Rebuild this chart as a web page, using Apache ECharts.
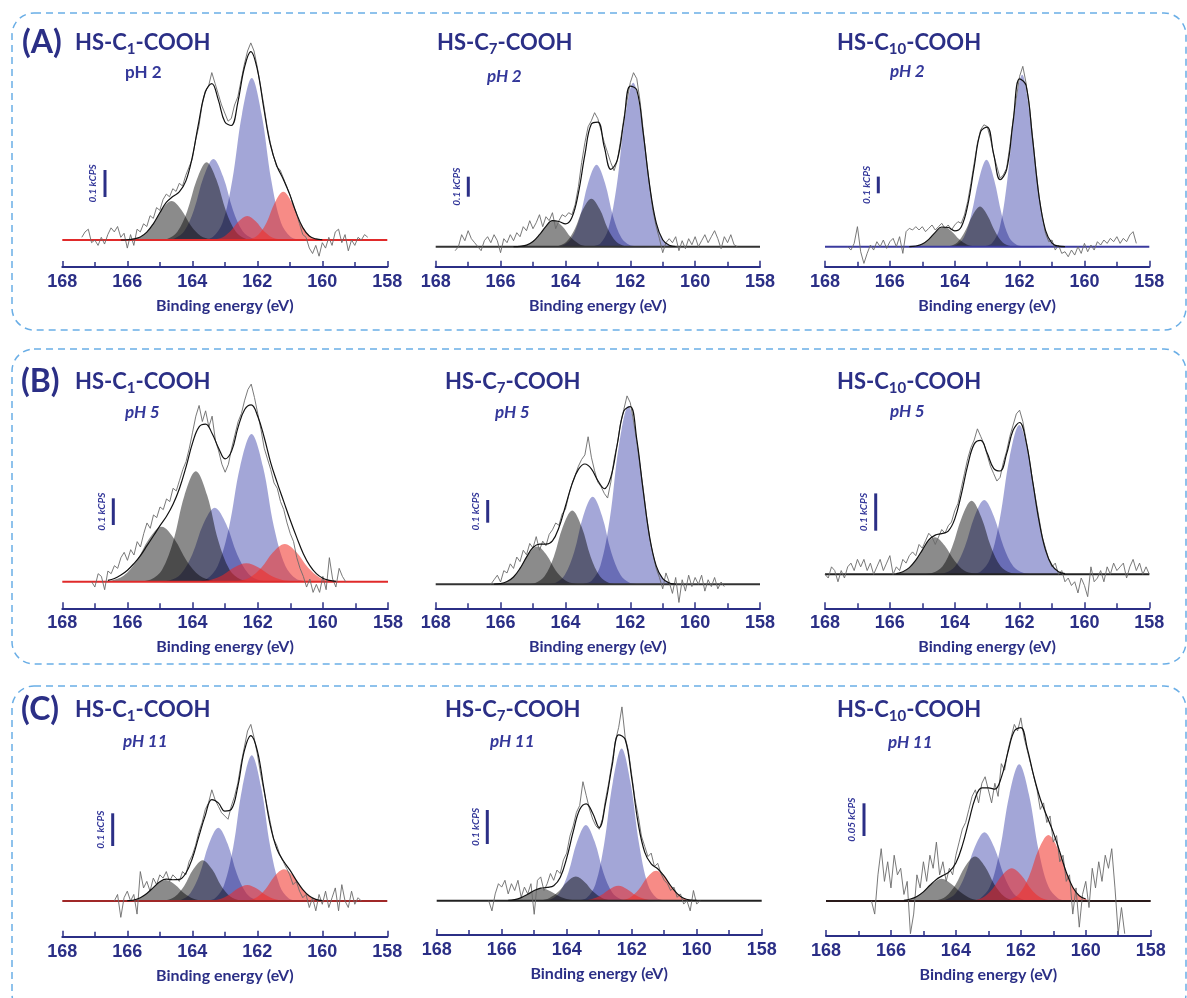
<!DOCTYPE html>
<html><head><meta charset="utf-8">
<script src="https://cdn.jsdelivr.net/npm/echarts@6/dist/echarts.min.js"></script>
<style>html,body{margin:0;padding:0;background:#fff}#c{width:1187px;height:998px}</style>
</head><body><div id="c"></div>
<script>
// ---------------- DATA ----------------
const ROW_LABELS = ['(A)', '(B)', '(C)'];
const CHAIN_SUB = ['1', '7', '10'];
const PH_LABELS = ['pH 2', 'pH 2', 'pH 2', 'pH 5', 'pH 5', 'pH 5', 'pH 11', 'pH 11', 'pH 11'];
const BAR_VALUES = [0.1, 0.1, 0.1, 0.1, 0.1, 0.1, 0.1, 0.1, 0.05];
const BAR_LABELS = ['0.1 kCPS', '0.1 kCPS', '0.1 kCPS', '0.1 kCPS', '0.1 kCPS', '0.1 kCPS', '0.1 kCPS', '0.1 kCPS', '0.05 kCPS'];
const X_TICKS = [168, 166, 164, 162, 160, 158];
const X_TITLE = 'Binding energy (eV)';

// fitted components (binding energy eV, intensity kCPS): S2p1/2, S2p3/2 pairs
const A1_components = [
 [[166.14,0],[165.84,.003],[165.54,.015],[165.24,.053],[164.94,.112],[164.64,.144],[164.34,.112],[164.04,.053],[163.74,.015],[163.44,.003],[163.14,0]],
 [[165.06,0],[164.76,.005],[164.46,.031],[164.16,.106],[163.86,.224],[163.56,.288],[163.26,.224],[162.96,.106],[162.66,.031],[162.36,.005],[162.06,0]],
 [[164.85,0],[164.55,.006],[164.25,.032],[163.95,.111],[163.65,.234],[163.35,.30],[163.05,.234],[162.75,.111],[162.45,.032],[162.15,.006],[161.85,0]],
 [[163.67,0],[163.37,.011],[163.07,.064],[162.77,.221],[162.47,.467],[162.17,.60],[161.87,.467],[161.57,.221],[161.27,.064],[160.97,.011],[160.67,0]],
 [[163.59,0],[163.33,.002],[163.08,.009],[162.82,.033],[162.57,.069],[162.31,.089],[162.05,.069],[161.8,.033],[161.54,.009],[161.29,.002],[161.03,0]],
 [[162.48,0],[162.22,.003],[161.97,.019],[161.71,.066],[161.46,.139],[161.2,.179],[160.94,.139],[160.69,.066],[160.43,.019],[160.18,.003],[159.92,0]]
];
const A2_components = [
 [[165.63,0],[165.37,.002],[165.12,.014],[164.86,.048],[164.61,.101],[164.35,.13],[164.09,.101],[163.84,.048],[163.58,.014],[163.33,.002],[163.07,0]],
 [[164.48,0],[164.22,.004],[163.97,.025],[163.71,.089],[163.46,.187],[163.2,.24],[162.94,.187],[162.69,.089],[162.43,.025],[162.18,.004],[161.92,0]],
 [[164.32,0],[164.06,.008],[163.81,.043],[163.55,.151],[163.3,.319],[163.04,.41],[162.78,.319],[162.53,.151],[162.27,.043],[162.02,.008],[161.76,0]],
 [[163.19,0],[162.93,.015],[162.68,.087],[162.42,.303],[162.17,.639],[161.91,.82],[161.65,.639],[161.4,.303],[161.14,.087],[160.89,.015],[160.63,0]]
];
const A3_components = [
 [[165.5,0],[165.27,.002],[165.03,.013],[164.8,.044],[164.56,.093],[164.33,.12],[164.1,.093],[163.86,.044],[163.63,.013],[163.39,.002],[163.16,0]],
 [[164.39,0],[164.16,.004],[163.92,.025],[163.69,.089],[163.45,.187],[163.22,.24],[162.99,.187],[162.75,.089],[162.52,.025],[162.28,.004],[162.05,0]],
 [[164.19,0],[163.96,.01],[163.72,.055],[163.49,.192],[163.25,.405],[163.02,.52],[162.79,.405],[162.55,.192],[162.32,.055],[162.08,.01],[161.85,0]],
 [[163.09,0],[162.86,.019],[162.62,.109],[162.39,.38],[162.15,.802],[161.92,1.03],[161.69,.802],[161.45,.38],[161.22,.109],[160.98,.019],[160.75,0]]
];
const B1_components = [
 [[166.9,0],[166.51,.004],[166.12,.022],[165.73,.076],[165.34,.16],[164.95,.206],[164.56,.16],[164.17,.076],[163.78,.022],[163.39,.004],[163.0,0]],
 [[165.63,0],[165.28,.008],[164.94,.044],[164.59,.153],[164.25,.323],[163.9,.414],[163.55,.323],[163.21,.153],[162.86,.044],[162.52,.008],[162.17,0]],
 [[165.05,0],[164.7,.005],[164.36,.029],[164.01,.102],[163.67,.216],[163.32,.277],[162.97,.216],[162.63,.102],[162.28,.029],[161.94,.005],[161.59,0]],
 [[163.92,0],[163.57,.01],[163.23,.059],[162.88,.204],[162.54,.431],[162.19,.553],[161.84,.431],[161.5,.204],[161.15,.059],[160.81,.01],[160.46,0]],
 [[164.15,0],[163.79,.001],[163.43,.007],[163.07,.025],[162.71,.054],[162.35,.069],[161.99,.054],[161.63,.025],[161.27,.007],[160.91,.001],[160.55,0]],
 [[162.97,0],[162.61,.003],[162.25,.015],[161.89,.052],[161.53,.11],[161.17,.141],[160.81,.11],[160.45,.052],[160.09,.015],[159.73,.003],[159.37,0]]
];
const B2_components = [
 [[166.3,0],[166.01,.003],[165.73,.018],[165.44,.061],[165.16,.129],[164.87,.166],[164.58,.129],[164.3,.061],[164.01,.018],[163.73,.003],[163.44,0]],
 [[165.22,0],[164.93,.006],[164.65,.034],[164.36,.12],[164.08,.253],[163.79,.325],[163.5,.253],[163.22,.12],[162.93,.034],[162.65,.006],[162.36,0]],
 [[164.59,0],[164.3,.007],[164.02,.041],[163.73,.142],[163.45,.301],[163.16,.386],[162.87,.301],[162.59,.142],[162.3,.041],[162.02,.007],[161.73,0]],
 [[163.49,0],[163.2,.015],[162.92,.083],[162.63,.29],[162.35,.612],[162.06,.786],[161.77,.612],[161.49,.29],[161.2,.083],[160.92,.015],[160.63,0]]
];
const B3_components = [
 [[166.11,0],[165.81,.002],[165.51,.01],[165.21,.037],[164.91,.077],[164.61,.099],[164.31,.077],[164.01,.037],[163.71,.01],[163.41,.002],[163.11,0]],
 [[164.98,0],[164.68,.004],[164.38,.021],[164.08,.073],[163.78,.153],[163.48,.197],[163.18,.153],[162.88,.073],[162.58,.021],[162.28,.004],[161.98,0]],
 [[164.59,0],[164.29,.004],[163.99,.021],[163.69,.073],[163.39,.155],[163.09,.199],[162.79,.155],[162.49,.073],[162.19,.021],[161.89,.004],[161.59,0]],
 [[163.51,0],[163.21,.007],[162.91,.042],[162.61,.148],[162.31,.312],[162.01,.40],[161.71,.312],[161.41,.148],[161.11,.042],[160.81,.007],[160.51,0]]
];
const C1_components = [
 [[166.25,0],[165.96,.001],[165.68,.007],[165.39,.024],[165.11,.05],[164.82,.064],[164.53,.05],[164.25,.024],[163.96,.007],[163.68,.001],[163.39,0]],
 [[165.11,0],[164.82,.002],[164.54,.013],[164.25,.046],[163.97,.097],[163.68,.125],[163.39,.097],[163.11,.046],[162.82,.013],[162.54,.002],[162.25,0]],
 [[164.63,0],[164.34,.004],[164.06,.024],[163.77,.083],[163.49,.174],[163.2,.224],[162.91,.174],[162.63,.083],[162.34,.024],[162.06,.004],[161.77,0]],
 [[163.6,0],[163.31,.008],[163.03,.047],[162.74,.165],[162.46,.347],[162.17,.446],[161.88,.347],[161.6,.165],[161.31,.047],[161.03,.008],[160.74,0]],
 [[163.74,0],[163.45,.001],[163.17,.005],[162.88,.018],[162.6,.038],[162.31,.049],[162.02,.038],[161.74,.018],[161.45,.005],[161.17,.001],[160.88,0]],
 [[162.61,0],[162.32,.002],[162.04,.01],[161.75,.036],[161.47,.076],[161.18,.097],[160.89,.076],[160.61,.036],[160.32,.01],[160.04,.002],[159.75,0]]
];
const C2_components = [
 [[166.12,0],[165.85,.001],[165.58,.004],[165.31,.013],[165.04,.028],[164.77,.036],[164.5,.028],[164.23,.013],[163.96,.004],[163.69,.001],[163.42,0]],
 [[165.07,0],[164.8,.001],[164.53,.008],[164.26,.026],[163.99,.055],[163.72,.071],[163.45,.055],[163.18,.026],[162.91,.008],[162.64,.001],[162.37,0]],
 [[164.76,0],[164.49,.004],[164.22,.024],[163.95,.082],[163.68,.174],[163.41,.223],[163.14,.174],[162.87,.082],[162.6,.024],[162.33,.004],[162.06,0]],
 [[163.66,0],[163.39,.008],[163.12,.047],[162.85,.165],[162.58,.349],[162.31,.448],[162.04,.349],[161.77,.165],[161.5,.047],[161.23,.008],[160.96,0]],
 [[163.76,0],[163.49,.001],[163.22,.005],[162.95,.016],[162.68,.034],[162.41,.044],[162.14,.034],[161.87,.016],[161.6,.005],[161.33,.001],[161.06,0]],
 [[162.6,0],[162.33,.002],[162.06,.009],[161.79,.032],[161.52,.069],[161.25,.088],[160.98,.069],[160.71,.032],[160.44,.009],[160.17,.002],[159.9,0]]
];
const C3_components = [
 [[165.94,0],[165.64,.001],[165.34,.004],[165.04,.013],[164.74,.026],[164.44,.034],[164.14,.026],[163.84,.013],[163.54,.004],[163.24,.001],[162.94,0]],
 [[164.91,0],[164.61,.001],[164.31,.007],[164.01,.025],[163.71,.053],[163.41,.068],[163.11,.053],[162.81,.025],[162.51,.007],[162.21,.001],[161.91,0]],
 [[164.62,0],[164.32,.002],[164.02,.011],[163.72,.039],[163.42,.082],[163.12,.105],[162.82,.082],[162.52,.039],[162.22,.011],[161.92,.002],[161.62,0]],
 [[163.55,0],[163.25,.004],[162.95,.022],[162.65,.077],[162.35,.163],[162.05,.209],[161.75,.163],[161.45,.077],[161.15,.022],[160.85,.004],[160.55,0]],
 [[163.78,0],[163.48,.001],[163.18,.005],[162.88,.018],[162.58,.039],[162.28,.05],[161.98,.039],[161.68,.018],[161.38,.005],[161.08,.001],[160.78,0]],
 [[162.65,0],[162.35,.002],[162.05,.011],[161.75,.037],[161.45,.079],[161.15,.101],[160.85,.079],[160.55,.037],[160.25,.011],[159.95,.002],[159.65,0]]
];

// fit envelopes, sampled every 0.2 eV from the given start energy
const A1_env_start = 166.2;
const A1_envelope = [.000,.001,.004,.011,.029,.060,.101,.139,.161,.178,.218,.307,.437,.548,.579,.519,.438,.424,.509,.637,.698,.632,.488,.354,.275,.225,.168,.100,.046,.015,.004,.001];
const A2_env_start = 165.6;
const A2_envelope = [.000,.002,.008,.026,.060,.102,.130,.126,.114,.146,.268,.460,.613,.623,.498,.387,.434,.626,.803,.784,.567,.303,.119,.035,.007,.001];
const A3_env_start = 165.4;
const A3_envelope = [.001,.004,.016,.044,.086,.118,.115,.095,.118,.247,.478,.689,.716,.556,.401,.461,.747,1.005,.966,.647,.301,.098,.022,.003,.000];
const B1_env_start = 166.6;
const B1_envelope = [.005,.012,.025,.043,.068,.098,.135,.172,.21,.245,.29,.35,.43,.52,.58,.59,.555,.50,.46,.49,.58,.645,.662,.62,.54,.445,.37,.30,.23,.165,.105,.06,.03,.013,.005,.001];
const B2_env_start = 166.2;
const B2_envelope = [.001,.003,.012,.032,.070,.120,.162,.177,.177,.191,.250,.344,.440,.506,.530,.509,.457,.421,.472,.617,.763,.783,.639,.41,.206,.081,.025,.006,.001];
const B3_env_start = 165.8;
const B3_envelope = [.002,.007,.018,.038,.065,.092,.105,.109,.116,.148,.213,.292,.349,.359,.325,.284,.277,.323,.386,.407,.356,.251,.143,.065,.024,.007,.002];
const C1_env_start = 166.0;
const C1_envelope = [.001,.003,.010,.023,.041,.059,.067,.065,.066,.085,.130,.197,.262,.31,.30,.275,.28,.35,.459,.506,.460,.345,.231,.160,.123,.095,.063,.035,.015,.005,.001];
const C2_env_start = 165.8;
const C2_envelope = [.001,.003,.009,.019,.030,.037,.039,.044,.068,.125,.203,.268,.285,.257,.215,.289,.399,.488,.474,.361,.227,.143,.108,.094,.072,.044,.021,.007,.002,.001];
const C3_env_start = 165.6;
const C3_envelope = [.001,.003,.007,.014,.024,.033,.039,.045,.058,.085,.122,.158,.173,.173,.171,.189,.227,.260,.265,.233,.191,.156,.130,.105,.075,.044,.021,.008,.003];

// raw spectra, sampled every 0.1 eV from the given start energy
const A1_raw_start = 167.4;
const A1_raw = [0.01,0.03,0.04,-0.01,0.00,-0.02,0.01,-0.015,0.02,0.045,0.03,0.05,0.01,0.025,-0.03,0.02,-0.02,0.04,0.03,0.06,0.05,0.09,0.08,0.12,0.11,0.15,0.17,0.16,0.19,0.18,0.21,0.20,0.24,0.27,0.30,0.37,0.42,0.50,0.55,0.57,0.62,0.58,0.54,0.50,0.47,0.44,0.45,0.50,0.53,0.59,0.65,0.70,0.73,0.70,0.64,0.57,0.50,0.42,0.36,0.31,0.27,0.26,0.23,0.20,0.17,0.13,0.10,0.06,0.02,0.01,-0.03,-0.05,-0.02,-0.06,-0.01,-0.03,0.01,-0.02,0.03,0.04,-0.01,0.02,-0.04,0.00,-0.02,0.01,0.00,0.02,0.01];
const A2_raw_start = 167.4;
const A2_raw = [-0.02,0.00,0.06,0.03,0.08,0.04,0.02,0.00,-0.02,0.03,0.05,0.02,0.06,0.03,-0.03,0.04,0.02,0.06,0.03,0.07,0.05,0.10,0.08,0.13,0.09,0.12,0.16,0.10,0.15,0.13,0.17,0.09,0.13,0.16,0.15,0.17,0.16,0.21,0.30,0.42,0.52,0.60,0.63,0.67,0.64,0.58,0.52,0.47,0.42,0.38,0.43,0.53,0.64,0.73,0.82,0.87,0.84,0.73,0.58,0.43,0.30,0.18,0.10,0.04,-0.03,0.02,0.04,0.02,0.05,-0.02,0.03,-0.01,0.04,0.01,0.05,0.00,0.03,0.06,0.02,0.05,0.08,0.04,-0.01,0.05,0.02,0.06,0.01,0.00];
const A3_raw_start = 167.3;
const A3_raw = [0.00,-0.02,0.02,0.12,-0.03,-0.10,-0.04,0.01,-0.02,0.03,0.00,0.04,-0.01,0.03,0.05,0.00,0.06,-0.04,0.09,0.11,0.10,0.12,0.10,0.12,0.09,0.11,0.13,0.10,0.12,0.14,0.11,0.13,0.10,0.13,0.15,0.14,0.19,0.27,0.38,0.50,0.62,0.70,0.73,0.72,0.65,0.55,0.48,0.41,0.43,0.47,0.60,0.76,0.89,1.02,1.08,0.98,0.84,0.66,0.47,0.30,0.18,0.08,0.03,0.04,-0.02,0.01,-0.04,-0.03,-0.06,-0.02,-0.05,0.00,-0.04,0.02,-0.03,0.01,-0.02,0.03,0.01,0.04,0.02,0.05,0.03,0.06,0.02,0.05,0.03,0.07,0.09,0.02];
const B1_raw_start = 167.1;
const B1_raw = [0.00,-0.02,0.03,0.02,-0.03,0.04,0.03,0.06,0.05,0.09,0.11,0.08,0.12,0.10,0.15,0.13,0.18,0.22,0.20,0.25,0.24,0.28,0.27,0.31,0.30,0.35,0.34,0.38,0.42,0.45,0.50,0.56,0.62,0.66,0.60,0.64,0.58,0.62,0.53,0.49,0.44,0.41,0.44,0.50,0.55,0.60,0.63,0.68,0.72,0.74,0.69,0.63,0.57,0.50,0.46,0.42,0.37,0.35,0.30,0.27,0.22,0.18,0.15,0.09,0.05,0.02,-0.02,0.01,-0.04,-0.01,-0.04,0.02,-0.03,0.09,0.01,-0.02,0.05,0.02,0.00];
const B2_raw_start = 166.3;
const B2_raw = [0.00,0.02,0.04,0.01,0.06,0.05,0.09,0.07,0.12,0.10,0.15,0.13,0.18,0.16,0.21,0.15,0.19,0.17,0.22,0.24,0.27,0.26,0.31,0.33,0.39,0.44,0.48,0.52,0.55,0.57,0.65,0.56,0.50,0.45,0.43,0.40,0.38,0.45,0.55,0.62,0.71,0.77,0.83,0.80,0.72,0.63,0.52,0.42,0.30,0.20,0.13,0.07,0.03,-0.02,0.05,0.01,-0.04,0.03,-0.08,0.02,-0.03,0.04,-0.01,0.03,0.00,0.04,-0.03,0.02,-0.01,0.03,-0.02,0.01,-0.01];
const B3_raw_start = 168.0;
const B3_raw = [0.00,-0.01,0.02,0.01,-0.02,0.01,-0.01,0.02,0.03,0.01,0.04,0.02,0.04,0.01,0.03,0.00,0.02,0.04,0.01,0.03,0.05,0.00,0.02,0.01,0.04,0.03,0.05,0.06,0.05,0.08,0.07,0.09,0.11,0.10,0.08,0.10,0.12,0.11,0.13,0.14,0.17,0.19,0.23,0.27,0.31,0.34,0.36,0.39,0.37,0.35,0.32,0.29,0.27,0.25,0.26,0.30,0.33,0.37,0.40,0.43,0.44,0.41,0.36,0.31,0.25,0.20,0.15,0.10,0.07,0.04,0.02,0.03,0.00,0.01,-0.02,-0.01,-0.03,-0.02,-0.05,-0.01,-0.03,-0.06,0.02,-0.02,-0.01,0.01,-0.02,0.02,0.00,0.03,0.01,0.02,0.03,-0.01,0.02,0.04,0.01,0.03,0.00,0.02,0.00];
const C1_raw_start = 166.4;
const C1_raw = [0.00,0.02,-0.05,0.01,0.03,0.00,0.02,-0.04,0.09,0.04,0.06,0.03,0.07,0.05,0.08,0.07,0.09,0.06,0.08,0.07,0.06,0.09,0.08,0.12,0.14,0.17,0.21,0.24,0.28,0.30,0.34,0.31,0.29,0.27,0.26,0.25,0.29,0.32,0.36,0.42,0.47,0.52,0.54,0.50,0.45,0.39,0.34,0.29,0.24,0.19,0.17,0.14,0.12,0.10,0.08,0.05,0.06,0.03,0.01,0.02,-0.02,0.01,-0.03,0.02,-0.01,0.03,-0.02,0.01,0.04,-0.03,0.05,0.00,-0.02,0.03,-0.01,0.01,0.00];
const C2_raw_start = 166.4;
const C2_raw = [0.00,-0.03,0.02,0.05,0.04,0.06,0.02,0.05,0.03,0.06,0.01,0.04,0.02,0.05,-0.04,0.06,0.07,0.03,0.05,0.08,0.06,0.09,0.08,0.12,0.14,0.19,0.22,0.26,0.28,0.35,0.31,0.27,0.24,0.22,0.21,0.24,0.30,0.35,0.41,0.47,0.51,0.57,0.48,0.44,0.37,0.30,0.25,0.19,0.16,0.13,0.14,0.10,0.11,0.08,0.06,0.05,0.03,0.04,0.01,0.02,-0.01,0.00,-0.03,0.03,-0.01,0.00];
const C3_raw_start = 166.6;
const C3_raw = [0.00,-0.02,0.04,0.08,0.03,0.06,0.02,0.07,0.04,0.05,0.01,0.03,-0.05,-0.02,0.04,0.02,0.06,0.03,0.07,0.05,0.09,0.04,0.06,0.03,0.05,0.04,0.07,0.09,0.11,0.12,0.14,0.16,0.17,0.15,0.18,0.19,0.17,0.15,0.18,0.16,0.21,0.20,0.23,0.25,0.27,0.26,0.28,0.25,0.23,0.21,0.19,0.17,0.14,0.15,0.12,0.13,0.09,0.10,0.06,0.07,0.03,0.04,-0.02,0.02,-0.04,0.01,0.03,-0.01,0.05,0.02,0.06,0.03,0.07,0.05,0.08,0.02,-0.05,-0.01,-0.05];

const COMPONENTS = [A1_components, A2_components, A3_components, B1_components, B2_components, B3_components, C1_components, C2_components, C3_components];
const ENVELOPES = [[A1_env_start, A1_envelope], [A2_env_start, A2_envelope], [A3_env_start, A3_envelope], [B1_env_start, B1_envelope], [B2_env_start, B2_envelope], [B3_env_start, B3_envelope], [C1_env_start, C1_envelope], [C2_env_start, C2_envelope], [C3_env_start, C3_envelope]];
const RAWS = [[A1_raw_start, A1_raw], [A2_raw_start, A2_raw], [A3_raw_start, A3_raw], [B1_raw_start, B1_raw], [B2_raw_start, B2_raw], [B3_raw_start, B3_raw], [C1_raw_start, C1_raw], [C2_raw_start, C2_raw], [C3_raw_start, C3_raw]];

// ---------------- LAYOUT / STYLE ----------------
const NAVY = '#2b2f86';
// gray / blue doublets are multiplied together; red doublet is laid over with transparency
const COMP_COLORS = ['#8b8b8b', '#8a8a8a', '#a4a7d8', '#a3a6d7', 'rgba(238,40,40,0.56)', 'rgba(240,48,40,0.56)'];
const MULTIPLY_FILLS = new Set(COMP_COLORS.slice(0, 4));
const LAYOUT = [
 {l:62.3, r:387.3, ax:267, by:240, top:30, bar:27, bx:105, bb:197, bc:'#e02a2a'},
 {l:435.7, r:760, ax:266.7, by:246.7, top:30, bar:20, bx:468.3, bb:196.7, bc:'#333333'},
 {l:825, r:1149.3, ax:266.7, by:246.7, top:30, bar:16.7, bx:878.3, bb:193.3, bc:'#3b3b9e'},
 {l:62.3, r:388, ax:608.3, by:581.7, top:370, bar:26.7, bx:113.3, bb:525, bc:'#e02a2a'},
 {l:435.7, r:760, ax:608.3, by:584.3, top:370, bar:22.7, bx:487.7, bb:522.7, bc:'#333333'},
 {l:825, r:1149.3, ax:608.3, by:574.3, top:370, bar:37.3, bx:875.7, bb:530.7, bc:'#222222'},
 {l:62.3, r:387.3, ax:936.7, by:901, top:700, bar:32.7, bx:112.7, bb:846, bc:'#a02828'},
 {l:436.7, r:761.7, ax:935, by:900.7, top:700, bar:34, bx:487.3, bb:844, bc:'#222222'},
 {l:826, r:1150.7, ax:936, by:901, top:700, bar:32.7, bx:864, bb:836, bc:'#2a1a1a'}
];
const ROW_Y = [43, 382, 710];
const ROW_LABEL_X = [22, 21, 21];
const TITLE_X = [[75, 437, 837], [75, 445, 837], [75, 445, 837]];
const PH_POS = [[125,73],[487,77],[890,72],[125,413],[495,413],[890,412],[123,742],[490,742],[888,743]];
const BOXES = [[12, 13, 1174, 317], [12, 349, 1174, 315], [12, 686, 1174, 330]];

const chart = echarts.init(document.getElementById('c'), null, {renderer: 'canvas', width: 1187, height: 998});
const grids = [], xAxes = [], yAxes = [], series = [];
const r2 = v => Math.round(v * 100) / 100;

LAYOUT.forEach((p, i) => {
  const pxPer = p.bar / BAR_VALUES[i];
  grids.push({left: p.l, top: p.top, width: p.r - p.l, height: p.ax - p.top});
  xAxes.push({
    type: 'value', gridIndex: i, min: 158, max: 168, interval: 2, inverse: true,
    axisLine: {show: true, onZero: false, lineStyle: {color: NAVY, width: 2}},
    axisTick: {show: true, inside: true, length: 6, lineStyle: {color: NAVY, width: 1.5}},
    minorTick: {show: true, splitNumber: 2, length: 5, lineStyle: {color: NAVY, width: 1.5}},
    splitLine: {show: false}, minorSplitLine: {show: false},
    axisLabel: {margin: 6, color: NAVY, fontFamily: 'Liberation Sans', fontWeight: 'bold', fontSize: 18,
      formatter: v => X_TICKS.indexOf(v) >= 0 ? String(v) : ''},
    name: X_TITLE, nameLocation: 'middle', nameGap: 31,
    nameTextStyle: {color: NAVY, fontFamily: 'Lato', fontWeight: 'bold', fontSize: 16}
  });
  yAxes.push({type: 'value', gridIndex: i, show: false,
    min: -(p.ax - p.by) / pxPer, max: (p.by - p.top) / pxPer});

  COMPONENTS[i].forEach((comp, ci) => {
    series.push({
      type: 'custom', xAxisIndex: i, yAxisIndex: i, silent: true, data: [comp[5]],
      renderItem: (params, api) => {
        const pts = comp.map(pt => api.coord(pt));
        return {type: 'polygon', shape: {points: pts, smooth: 0.35},
          style: {fill: COMP_COLORS[ci], stroke: null}};
      }
    });
  });
  series.push({type: 'line', xAxisIndex: i, yAxisIndex: i, symbol: 'none', silent: true,
    data: [[168, 0], [158, 0]], lineStyle: {color: p.bc, width: 2}});
  const [rs, rv] = RAWS[i];
  series.push({type: 'line', xAxisIndex: i, yAxisIndex: i, symbol: 'none', silent: true,
    data: rv.map((v, k) => [r2(rs - k * 0.1), v]), lineStyle: {color: '#6a6a6a', width: 0.9}});
  const [es, ev] = ENVELOPES[i];
  series.push({type: 'line', xAxisIndex: i, yAxisIndex: i, symbol: 'none', silent: true, smooth: 0.4,
    data: ev.map((v, k) => [r2(es - k * 0.2), v]), lineStyle: {color: '#111111', width: 1.2}});
});

chart.setOption({animation: false, backgroundColor: '#ffffff', grid: grids, xAxis: xAxes, yAxis: yAxes, series: series});

// ---------- texts, scale bars, frames ----------
const ctx = document.createElement('canvas').getContext('2d');
function tw(text, font) { ctx.font = font; return ctx.measureText(text).width; }
const graphics = [];
BOXES.forEach(b => graphics.push({type: 'rect', z: 0, silent: true,
  shape: {x: b[0], y: b[1], width: b[2], height: b[3], r: 22},
  style: {fill: 'none', stroke: '#6aaee6', lineWidth: 1.5, lineDash: [7, 5]}}));

const FMAIN = 'bold 22px Lato', FSUB = 'bold 15px Lato';
ROW_LABELS.forEach((lab, r) => {
  graphics.push({type: 'text', x: ROW_LABEL_X[r], y: ROW_Y[r], silent: true,
    style: {text: lab, font: 'bold 32px Lato', fill: NAVY, verticalAlign: 'middle'}});
  CHAIN_SUB.forEach((sub, c) => {
    const x0 = TITLE_X[r][c], y0 = ROW_Y[r];
    const w1 = tw('HS-C', FMAIN), ws = tw(sub, FSUB);
    graphics.push({type: 'text', x: x0, y: y0, silent: true, style: {text: 'HS-C', font: FMAIN, fill: NAVY, verticalAlign: 'middle'}});
    graphics.push({type: 'text', x: x0 + w1, y: y0 + 6, silent: true, style: {text: sub, font: FSUB, fill: NAVY, verticalAlign: 'middle'}});
    graphics.push({type: 'text', x: x0 + w1 + ws, y: y0, silent: true, style: {text: '-COOH', font: FMAIN, fill: NAVY, verticalAlign: 'middle'}});
  });
});
PH_LABELS.forEach((t, i) => {
  graphics.push({type: 'text', x: PH_POS[i][0], y: PH_POS[i][1], silent: true,
    style: {text: t, font: (i === 0 ? '' : 'italic ') + 'bold 17px Lato', fill: '#34389a', verticalAlign: 'middle'}});
});
LAYOUT.forEach((p, i) => {
  const y0 = chart.convertToPixel({yAxisIndex: i}, 0);
  const y1 = chart.convertToPixel({yAxisIndex: i}, BAR_VALUES[i]);
  const len = Math.abs(y0 - y1);
  graphics.push({type: 'line', silent: true, shape: {x1: p.bx, y1: p.bb, x2: p.bx, y2: p.bb - len},
    style: {stroke: NAVY, lineWidth: 3}});
  graphics.push({type: 'text', x: p.bx - 12, y: p.bb - len / 2, rotation: Math.PI / 2, silent: true,
    style: {text: BAR_LABELS[i], font: 'italic bold 10px Lato', fill: '#34389a', align: 'center', verticalAlign: 'middle'}});
});
chart.setOption({graphic: graphics});

// overlapping gray/blue fit components are composited multiplicatively, as in the original figure
function blendComponents() {
  const zr = chart.getZr();
  zr.storage.getDisplayList(true).forEach(el => {
    if (el.style && MULTIPLY_FILLS.has(el.style.fill)) {
      el.style.blend = 'multiply';
      el.markRedraw();
    }
  });
  zr.refreshImmediately();
}
blendComponents();
</script></body></html>
